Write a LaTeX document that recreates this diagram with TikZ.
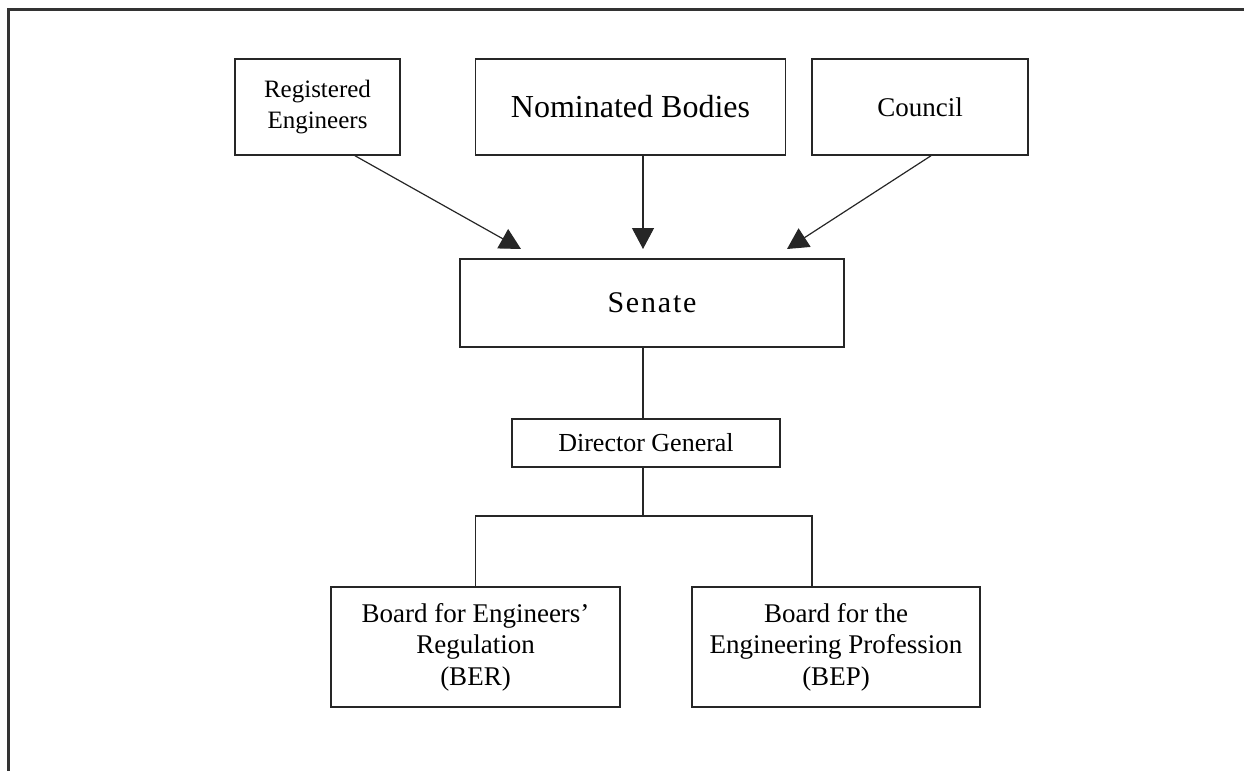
\documentclass[tikz,border=0pt]{standalone}
\usepackage{fontspec}
\setmainfont{Liberation Serif}
\newfontfamily\senatefont[LetterSpace=6]{Liberation Serif}
\usetikzlibrary{arrows.meta}

\begin{document}
\begin{tikzpicture}[x=0.5pt,y=-0.5pt,
    box/.style={draw=black!85,line width=0.75pt,align=center,inner sep=0pt},
    link/.style={draw=black!85,line width=0.6pt},
    arr/.style={link,-{Triangle[length=10.5pt,width=11pt]}}]
  \useasboundingbox (0,0) rectangle (1244,771);
  \draw[black!80,line width=1.2pt] (1244,9.5) -- (8.5,9.5) -- (8.5,771);
  \node[box,minimum width=82.5pt,minimum height=48pt,font=\fontsize{12.5}{15.5}\selectfont]
    (reg) at (317.5,107) {Registered\\Engineers};
  \node[box,minimum width=155pt,minimum height=48pt,font=\fontsize{16}{19}\selectfont]
    (nom) at (630.5,107) {Nominated Bodies};
  \node[box,minimum width=108pt,minimum height=48pt,font=\fontsize{13.5}{16}\selectfont]
    (coun) at (920,107) {Council};
  \node[box,minimum width=192pt,minimum height=44pt,font=\fontsize{15}{18}\senatefont]
    (senate) at (652,303) {Senate};
  \node[box,minimum width=134pt,minimum height=24pt,font=\fontsize{13}{15.5}\selectfont]
    (dg) at (646,443) {Director General};
  \node[box,minimum width=144.5pt,minimum height=60pt,font=\fontsize{13.5}{15.75}\selectfont]
    (ber) at (475.5,647) {Board for Engineers’\\Regulation\\(BER)};
  \node[box,minimum width=144pt,minimum height=60pt,font=\fontsize{13.5}{15.75}\selectfont]
    (bep) at (836,647) {Board for the\\Engineering Profession\\(BEP)};
  \coordinate (tipl) at (521,249);
  \coordinate (tipm) at (643,249);
  \coordinate (tipr) at (787,249);
  \coordinate (spine) at (643,0);
  \coordinate (fork) at (643,516);
  \coordinate (bepx) at (812,0);
  \draw[arr] ([xshift=18.75pt]reg.south) -- (tipl);
  \draw[arr] (nom.south -| tipm) -- (tipm);
  \draw[arr] ([xshift=5.5pt]coun.south) -- (tipr);
  \draw[link] (senate.south -| spine) -- (dg.north -| spine);
  \draw[link] (dg.south -| spine) -- (fork);
  \draw[link] (ber.north) |- (fork) -| (bep.north -| bepx);
\end{tikzpicture}
\end{document}
